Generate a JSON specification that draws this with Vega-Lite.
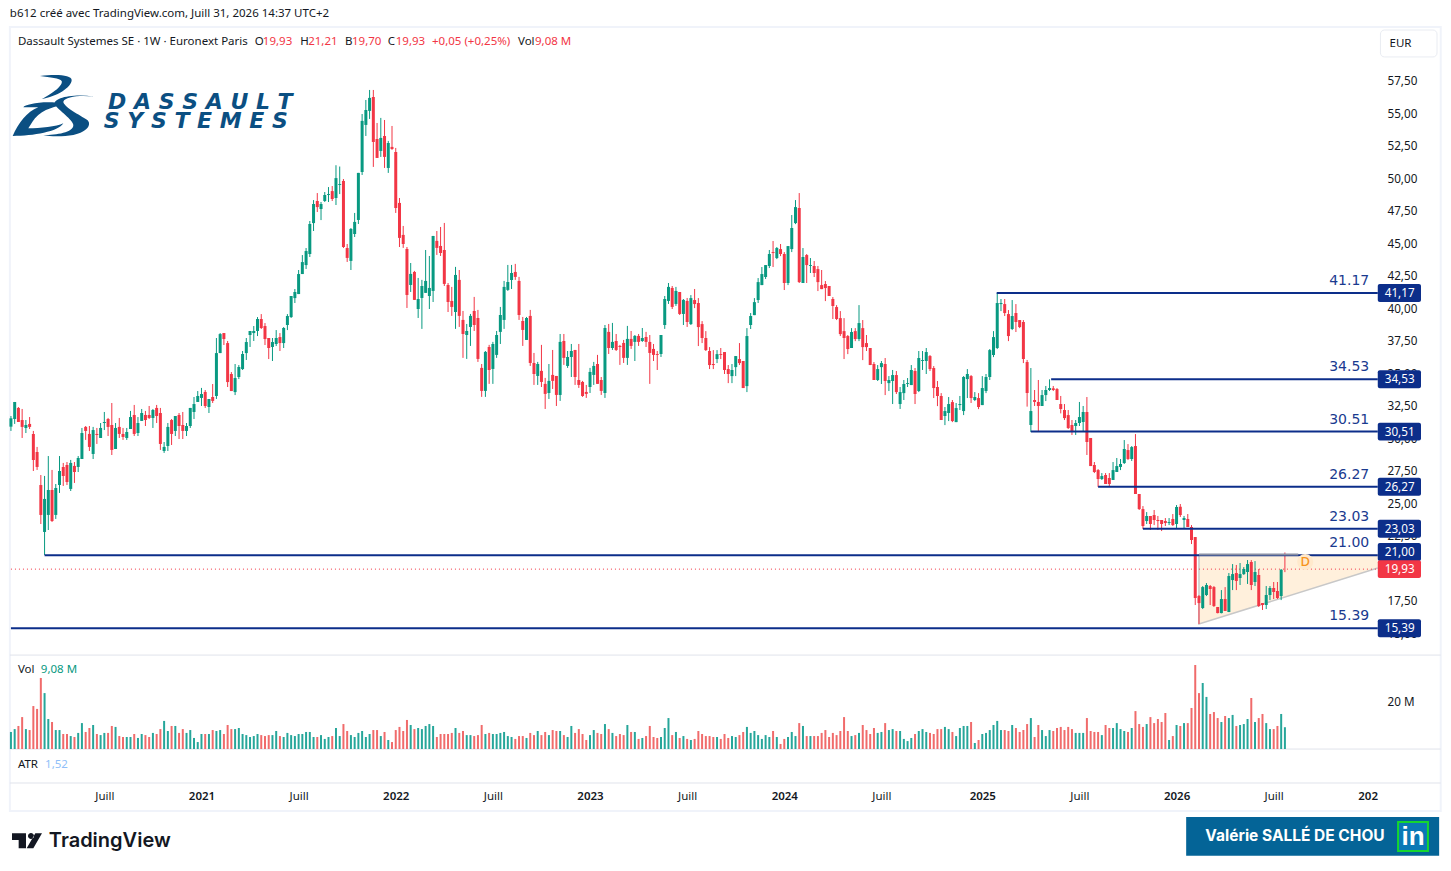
{
"$schema":"https://vega.github.io/schema/vega-lite/v6.json",
"width":1451,"height":871,"autosize":{"type":"fit","contains":"padding"},"padding":0,"background":"#ffffff",
"config":{"view":{"stroke":null}},
"datasets":{
"weeks":[
{"date":"2020-01-13","o":30.89,"h":31.71,"l":30.56,"c":31.53,"v":7.1},
{"date":"2020-01-20","o":31.48,"h":32.79,"l":31.10,"c":32.79,"v":8.3},
{"date":"2020-01-27","o":32.33,"h":32.40,"l":31.25,"c":31.25,"v":9.6},
{"date":"2020-02-03","o":31.40,"h":32.25,"l":30.02,"c":30.87,"v":13.3},
{"date":"2020-02-10","o":30.79,"h":31.40,"l":30.40,"c":31.02,"v":8.3},
{"date":"2020-02-17","o":31.10,"h":31.63,"l":30.71,"c":30.87,"v":7.9},
{"date":"2020-02-24","o":30.33,"h":30.56,"l":27.48,"c":28.33,"v":17.9},
{"date":"2020-03-02","o":28.94,"h":29.33,"l":27.56,"c":27.79,"v":16.7},
{"date":"2020-03-09","o":26.40,"h":27.17,"l":23.40,"c":24.10,"v":29.6},
{"date":"2020-03-16","o":22.79,"h":27.10,"l":21.02,"c":25.33,"v":23.3},
{"date":"2020-03-23","o":24.10,"h":28.63,"l":22.94,"c":26.02,"v":12.5},
{"date":"2020-03-30","o":26.02,"h":27.56,"l":23.56,"c":23.63,"v":11.25},
{"date":"2020-04-06","o":24.10,"h":26.48,"l":23.79,"c":26.17,"v":7.9},
{"date":"2020-04-13","o":26.40,"h":28.63,"l":25.79,"c":27.48,"v":7.9},
{"date":"2020-04-20","o":27.79,"h":28.10,"l":26.33,"c":27.10,"v":6.25},
{"date":"2020-04-27","o":27.94,"h":28.17,"l":26.40,"c":26.63,"v":6.25},
{"date":"2020-05-04","o":26.10,"h":28.33,"l":25.94,"c":28.10,"v":5.4},
{"date":"2020-05-11","o":27.87,"h":28.17,"l":26.56,"c":27.40,"v":5.0},
{"date":"2020-05-18","o":27.79,"h":28.63,"l":27.40,"c":28.48,"v":6.7},
{"date":"2020-05-25","o":28.40,"h":30.79,"l":28.40,"c":30.40,"v":10.8},
{"date":"2020-06-01","o":30.87,"h":30.94,"l":29.87,"c":30.56,"v":7.1},
{"date":"2020-06-08","o":30.33,"h":30.94,"l":29.02,"c":29.33,"v":8.75},
{"date":"2020-06-15","o":28.79,"h":30.87,"l":28.40,"c":30.63,"v":10},
{"date":"2020-06-22","o":30.33,"h":30.79,"l":29.56,"c":30.25,"v":6.25},
{"date":"2020-06-29","o":30.02,"h":31.17,"l":30.02,"c":30.79,"v":5.8},
{"date":"2020-07-06","o":31.17,"h":32.02,"l":30.63,"c":31.25,"v":6.7},
{"date":"2020-07-13","o":31.48,"h":31.56,"l":30.17,"c":30.87,"v":6.7},
{"date":"2020-07-20","o":31.02,"h":32.71,"l":28.71,"c":29.10,"v":9.6},
{"date":"2020-07-27","o":29.17,"h":31.17,"l":29.17,"c":30.79,"v":9.2},
{"date":"2020-08-03","o":30.87,"h":31.56,"l":30.02,"c":30.33,"v":5.4},
{"date":"2020-08-10","o":30.33,"h":30.79,"l":29.87,"c":30.10,"v":5},
{"date":"2020-08-17","o":30.02,"h":30.79,"l":29.87,"c":30.48,"v":5},
{"date":"2020-08-24","o":30.71,"h":32.10,"l":30.71,"c":31.63,"v":5},
{"date":"2020-08-31","o":31.79,"h":32.56,"l":30.17,"c":30.33,"v":6.25},
{"date":"2020-09-07","o":30.40,"h":31.63,"l":30.17,"c":31.17,"v":4.6},
{"date":"2020-09-14","o":31.33,"h":32.25,"l":31.33,"c":31.94,"v":6.25},
{"date":"2020-09-21","o":31.79,"h":32.10,"l":30.94,"c":31.40,"v":5.8},
{"date":"2020-09-28","o":31.79,"h":32.48,"l":31.48,"c":31.56,"v":5},
{"date":"2020-10-05","o":31.56,"h":32.25,"l":30.79,"c":32.17,"v":6.7},
{"date":"2020-10-12","o":32.33,"h":32.56,"l":31.17,"c":31.71,"v":6.25},
{"date":"2020-10-19","o":31.94,"h":32.33,"l":29.10,"c":29.56,"v":8.3},
{"date":"2020-10-26","o":29.02,"h":29.71,"l":28.87,"c":29.33,"v":11.7},
{"date":"2020-11-02","o":29.40,"h":31.17,"l":29.02,"c":30.87,"v":7.5},
{"date":"2020-11-09","o":31.40,"h":31.48,"l":29.48,"c":30.33,"v":9.6},
{"date":"2020-11-16","o":30.56,"h":31.71,"l":30.17,"c":31.71,"v":9.6},
{"date":"2020-11-23","o":31.79,"h":31.94,"l":29.94,"c":30.94,"v":6.7},
{"date":"2020-11-30","o":31.02,"h":32.02,"l":29.94,"c":30.56,"v":8.3},
{"date":"2020-12-07","o":30.56,"h":31.17,"l":30.17,"c":30.94,"v":6.7},
{"date":"2020-12-14","o":30.94,"h":32.33,"l":30.79,"c":32.33,"v":7.9},
{"date":"2020-12-21","o":32.02,"h":33.17,"l":31.48,"c":32.63,"v":4.6},
{"date":"2020-12-28","o":32.79,"h":33.63,"l":32.79,"c":33.25,"v":2.9},
{"date":"2021-01-04","o":33.10,"h":33.87,"l":32.48,"c":33.40,"v":6.25},
{"date":"2021-01-11","o":33.56,"h":33.71,"l":32.33,"c":32.48,"v":6.25},
{"date":"2021-01-18","o":32.40,"h":33.02,"l":31.94,"c":33.02,"v":6.25},
{"date":"2021-01-25","o":33.17,"h":34.17,"l":32.71,"c":32.87,"v":7.9},
{"date":"2021-02-01","o":33.25,"h":37.71,"l":33.02,"c":36.55,"v":7.5},
{"date":"2021-02-08","o":36.55,"h":38.09,"l":36.55,"c":38.01,"v":7.9},
{"date":"2021-02-15","o":38.09,"h":38.09,"l":37.17,"c":37.63,"v":6.25},
{"date":"2021-02-22","o":37.32,"h":37.48,"l":33.94,"c":34.32,"v":10},
{"date":"2021-03-01","o":34.94,"h":35.09,"l":33.63,"c":33.63,"v":8.3},
{"date":"2021-03-08","o":33.55,"h":35.71,"l":33.32,"c":34.63,"v":8.3},
{"date":"2021-03-15","o":34.71,"h":35.63,"l":34.55,"c":35.48,"v":8.75},
{"date":"2021-03-22","o":35.32,"h":36.71,"l":35.25,"c":36.48,"v":6.25},
{"date":"2021-03-29","o":36.55,"h":37.71,"l":36.02,"c":37.40,"v":5.8},
{"date":"2021-04-05","o":37.94,"h":38.25,"l":37.02,"c":38.25,"v":5},
{"date":"2021-04-12","o":38.09,"h":38.63,"l":37.48,"c":38.25,"v":5.4},
{"date":"2021-04-19","o":38.25,"h":39.32,"l":37.86,"c":39.17,"v":6.25},
{"date":"2021-04-26","o":39.17,"h":39.55,"l":38.40,"c":38.48,"v":5.8},
{"date":"2021-05-03","o":38.63,"h":38.86,"l":37.17,"c":37.63,"v":5.4},
{"date":"2021-05-10","o":37.71,"h":37.71,"l":36.09,"c":36.94,"v":5.8},
{"date":"2021-05-17","o":37.02,"h":37.71,"l":35.94,"c":37.40,"v":5.8},
{"date":"2021-05-24","o":37.25,"h":38.32,"l":37.09,"c":37.71,"v":7.5},
{"date":"2021-05-31","o":37.78,"h":38.09,"l":36.71,"c":37.32,"v":5.4},
{"date":"2021-06-07","o":37.32,"h":38.55,"l":36.94,"c":38.48,"v":5},
{"date":"2021-06-14","o":38.71,"h":39.55,"l":38.32,"c":39.40,"v":6.7},
{"date":"2021-06-21","o":39.32,"h":40.94,"l":39.25,"c":40.94,"v":5.8},
{"date":"2021-06-28","o":40.78,"h":41.48,"l":40.40,"c":41.25,"v":5.4},
{"date":"2021-07-05","o":41.09,"h":42.94,"l":41.09,"c":42.63,"v":6.25},
{"date":"2021-07-12","o":42.63,"h":44.09,"l":42.63,"c":43.55,"v":6.25},
{"date":"2021-07-19","o":43.32,"h":44.63,"l":43.02,"c":44.40,"v":7.1},
{"date":"2021-07-26","o":44.17,"h":46.71,"l":43.94,"c":46.48,"v":7.1},
{"date":"2021-08-02","o":46.55,"h":48.32,"l":45.94,"c":48.02,"v":5},
{"date":"2021-08-09","o":48.25,"h":48.86,"l":47.40,"c":47.78,"v":5},
{"date":"2021-08-16","o":47.63,"h":48.17,"l":46.78,"c":48.02,"v":5.8},
{"date":"2021-08-23","o":48.25,"h":48.94,"l":48.17,"c":48.71,"v":4.2},
{"date":"2021-08-30","o":48.71,"h":49.32,"l":48.17,"c":48.78,"v":5},
{"date":"2021-09-06","o":49.01,"h":49.40,"l":48.25,"c":48.40,"v":5.4},
{"date":"2021-09-13","o":48.48,"h":51.00,"l":47.94,"c":50.01,"v":8.75},
{"date":"2021-09-20","o":49.48,"h":50.90,"l":48.78,"c":49.55,"v":5.4},
{"date":"2021-09-27","o":49.79,"h":49.94,"l":44.63,"c":44.71,"v":10.4},
{"date":"2021-10-04","o":44.63,"h":44.94,"l":43.56,"c":43.87,"v":7.5},
{"date":"2021-10-11","o":43.64,"h":46.17,"l":42.94,"c":46.10,"v":5.8},
{"date":"2021-10-18","o":45.71,"h":47.33,"l":45.48,"c":46.64,"v":5},
{"date":"2021-10-25","o":46.79,"h":50.41,"l":46.48,"c":50.41,"v":6.7},
{"date":"2021-11-01","o":50.48,"h":54.94,"l":50.25,"c":54.41,"v":7.5},
{"date":"2021-11-08","o":54.10,"h":56.02,"l":53.25,"c":55.25,"v":5},
{"date":"2021-11-15","o":55.18,"h":56.79,"l":54.56,"c":56.18,"v":6.25},
{"date":"2021-11-22","o":56.25,"h":56.79,"l":50.87,"c":52.79,"v":7.9},
{"date":"2021-11-29","o":53.02,"h":54.25,"l":51.56,"c":51.56,"v":7.9},
{"date":"2021-12-06","o":52.10,"h":54.64,"l":51.64,"c":53.10,"v":5.4},
{"date":"2021-12-13","o":53.25,"h":54.48,"l":50.79,"c":51.64,"v":7.1},
{"date":"2021-12-20","o":50.79,"h":52.87,"l":50.41,"c":52.71,"v":3.75},
{"date":"2021-12-27","o":52.41,"h":54.02,"l":52.18,"c":52.25,"v":2.9},
{"date":"2022-01-03","o":52.02,"h":52.33,"l":47.33,"c":47.71,"v":7.9},
{"date":"2022-01-10","o":48.10,"h":48.48,"l":44.71,"c":45.41,"v":9.2},
{"date":"2022-01-17","o":45.64,"h":46.33,"l":44.64,"c":44.94,"v":7.5},
{"date":"2022-01-24","o":44.56,"h":44.71,"l":40.02,"c":41.02,"v":12.1},
{"date":"2022-01-31","o":41.79,"h":43.48,"l":41.25,"c":42.64,"v":10},
{"date":"2022-02-07","o":42.79,"h":42.87,"l":40.64,"c":40.64,"v":8.3},
{"date":"2022-02-14","o":39.94,"h":42.33,"l":39.25,"c":40.71,"v":8.75},
{"date":"2022-02-21","o":40.79,"h":42.18,"l":38.41,"c":41.71,"v":8.3},
{"date":"2022-02-28","o":41.18,"h":44.48,"l":41.18,"c":42.10,"v":9.6},
{"date":"2022-03-07","o":40.94,"h":44.02,"l":39.94,"c":41.56,"v":10.4},
{"date":"2022-03-14","o":41.33,"h":45.56,"l":40.48,"c":45.56,"v":9.6},
{"date":"2022-03-21","o":45.18,"h":45.94,"l":44.10,"c":44.64,"v":5},
{"date":"2022-03-28","o":44.79,"h":46.25,"l":44.02,"c":44.25,"v":6.25},
{"date":"2022-04-04","o":44.48,"h":46.56,"l":41.71,"c":41.87,"v":6.25},
{"date":"2022-04-11","o":41.79,"h":41.94,"l":39.71,"c":40.48,"v":6.25},
{"date":"2022-04-18","o":40.56,"h":41.64,"l":39.41,"c":40.10,"v":6.7},
{"date":"2022-04-25","o":39.71,"h":43.18,"l":38.41,"c":42.56,"v":8.75},
{"date":"2022-05-02","o":42.18,"h":42.94,"l":38.56,"c":39.41,"v":6.7},
{"date":"2022-05-09","o":39.10,"h":39.79,"l":36.18,"c":38.02,"v":7.5},
{"date":"2022-05-16","o":37.94,"h":38.79,"l":36.10,"c":38.25,"v":5.8},
{"date":"2022-05-23","o":38.56,"h":39.56,"l":37.10,"c":39.41,"v":5.8},
{"date":"2022-05-30","o":39.79,"h":40.87,"l":38.25,"c":38.71,"v":5.4},
{"date":"2022-06-06","o":39.25,"h":39.87,"l":35.87,"c":36.10,"v":5.8},
{"date":"2022-06-13","o":35.41,"h":35.71,"l":33.18,"c":33.64,"v":10},
{"date":"2022-06-20","o":33.64,"h":36.71,"l":33.18,"c":36.64,"v":6.25},
{"date":"2022-06-27","o":37.02,"h":37.18,"l":34.18,"c":35.25,"v":6.7},
{"date":"2022-07-04","o":35.33,"h":37.41,"l":34.18,"c":37.25,"v":6.25},
{"date":"2022-07-11","o":36.41,"h":38.25,"l":36.18,"c":37.94,"v":6.25},
{"date":"2022-07-18","o":38.18,"h":40.10,"l":37.25,"c":39.48,"v":6.7},
{"date":"2022-07-25","o":39.10,"h":42.10,"l":38.41,"c":41.64,"v":7.1},
{"date":"2022-08-01","o":41.41,"h":43.33,"l":41.33,"c":42.02,"v":5.4},
{"date":"2022-08-08","o":42.18,"h":43.33,"l":41.48,"c":42.71,"v":5},
{"date":"2022-08-15","o":42.79,"h":43.41,"l":42.18,"c":42.41,"v":4.2},
{"date":"2022-08-22","o":42.10,"h":42.41,"l":39.10,"c":39.48,"v":5.4},
{"date":"2022-08-29","o":39.02,"h":39.33,"l":37.10,"c":38.33,"v":5.4},
{"date":"2022-09-05","o":37.56,"h":39.33,"l":37.56,"c":39.25,"v":4.6},
{"date":"2022-09-12","o":39.41,"h":39.87,"l":35.56,"c":35.79,"v":6.7},
{"date":"2022-09-19","o":35.79,"h":36.56,"l":34.10,"c":34.94,"v":5.8},
{"date":"2022-09-26","o":34.79,"h":35.87,"l":34.10,"c":35.71,"v":7.5},
{"date":"2022-10-03","o":35.18,"h":37.18,"l":33.94,"c":34.33,"v":5.8},
{"date":"2022-10-10","o":34.18,"h":34.64,"l":32.25,"c":33.41,"v":7.1},
{"date":"2022-10-17","o":33.48,"h":35.71,"l":33.02,"c":34.41,"v":5.8},
{"date":"2022-10-24","o":34.87,"h":36.79,"l":33.79,"c":34.41,"v":7.9},
{"date":"2022-10-31","o":34.79,"h":34.79,"l":32.48,"c":33.33,"v":7.5},
{"date":"2022-11-07","o":33.33,"h":38.02,"l":32.87,"c":37.41,"v":7.5},
{"date":"2022-11-14","o":37.48,"h":38.02,"l":35.64,"c":36.18,"v":5.8},
{"date":"2022-11-21","o":35.56,"h":36.71,"l":35.41,"c":36.25,"v":5},
{"date":"2022-11-28","o":36.25,"h":37.25,"l":34.71,"c":36.71,"v":9.6},
{"date":"2022-12-05","o":36.79,"h":36.79,"l":34.10,"c":34.71,"v":6.7},
{"date":"2022-12-12","o":34.48,"h":37.25,"l":33.87,"c":34.10,"v":8.3},
{"date":"2022-12-19","o":34.33,"h":34.41,"l":33.18,"c":33.25,"v":6.25},
{"date":"2022-12-26","o":33.56,"h":34.10,"l":33.10,"c":33.41,"v":3.75},
{"date":"2023-01-02","o":33.94,"h":35.41,"l":33.48,"c":35.10,"v":5.8},
{"date":"2023-01-09","o":34.87,"h":35.87,"l":34.10,"c":35.56,"v":7.9},
{"date":"2023-01-16","o":35.71,"h":36.41,"l":34.18,"c":34.18,"v":6.7},
{"date":"2023-01-23","o":34.48,"h":34.71,"l":33.33,"c":33.64,"v":6.25},
{"date":"2023-01-30","o":33.48,"h":38.71,"l":33.10,"c":38.48,"v":10.4},
{"date":"2023-02-06","o":38.18,"h":38.79,"l":36.48,"c":36.94,"v":8.3},
{"date":"2023-02-13","o":36.94,"h":38.87,"l":36.79,"c":37.41,"v":6.7},
{"date":"2023-02-20","o":37.48,"h":38.02,"l":36.71,"c":36.79,"v":5.4},
{"date":"2023-02-27","o":37.10,"h":37.18,"l":35.64,"c":37.02,"v":6.25},
{"date":"2023-03-06","o":37.33,"h":37.56,"l":35.79,"c":36.18,"v":5.8},
{"date":"2023-03-13","o":36.18,"h":38.64,"l":35.64,"c":37.64,"v":10},
{"date":"2023-03-20","o":37.64,"h":38.25,"l":36.87,"c":37.10,"v":7.1},
{"date":"2023-03-27","o":37.41,"h":37.94,"l":35.94,"c":37.87,"v":7.1},
{"date":"2023-04-03","o":37.87,"h":38.02,"l":37.10,"c":37.41,"v":4.2},
{"date":"2023-04-10","o":37.48,"h":38.48,"l":37.41,"c":37.71,"v":4.6},
{"date":"2023-04-17","o":37.79,"h":38.18,"l":37.02,"c":37.41,"v":5.4},
{"date":"2023-04-24","o":37.41,"h":37.94,"l":34.18,"c":36.56,"v":9.6},
{"date":"2023-05-01","o":36.87,"h":37.25,"l":35.94,"c":36.41,"v":5},
{"date":"2023-05-08","o":36.48,"h":36.71,"l":35.25,"c":36.41,"v":4.6},
{"date":"2023-05-15","o":36.48,"h":37.94,"l":36.25,"c":37.94,"v":5},
{"date":"2023-05-22","o":38.71,"h":40.94,"l":38.41,"c":40.71,"v":8.75},
{"date":"2023-05-29","o":40.56,"h":41.94,"l":40.33,"c":41.64,"v":12.9},
{"date":"2023-06-05","o":41.56,"h":41.71,"l":39.94,"c":40.10,"v":5.8},
{"date":"2023-06-12","o":40.33,"h":41.64,"l":40.18,"c":41.33,"v":7.1},
{"date":"2023-06-19","o":41.25,"h":41.25,"l":39.48,"c":39.56,"v":4.6},
{"date":"2023-06-26","o":39.56,"h":40.71,"l":38.71,"c":40.64,"v":5.4},
{"date":"2023-07-03","o":40.56,"h":40.79,"l":38.56,"c":38.94,"v":4.2},
{"date":"2023-07-10","o":38.78,"h":41.01,"l":38.71,"c":40.78,"v":3.75},
{"date":"2023-07-17","o":40.63,"h":41.48,"l":40.01,"c":40.32,"v":4.2},
{"date":"2023-07-24","o":40.40,"h":40.78,"l":37.09,"c":38.55,"v":7.5},
{"date":"2023-07-31","o":38.78,"h":39.01,"l":37.32,"c":37.71,"v":6.25},
{"date":"2023-08-07","o":37.71,"h":38.24,"l":36.71,"c":36.78,"v":5.4},
{"date":"2023-08-14","o":36.71,"h":37.01,"l":35.32,"c":35.63,"v":5.4},
{"date":"2023-08-21","o":35.71,"h":36.78,"l":35.32,"c":35.63,"v":5},
{"date":"2023-08-28","o":36.09,"h":36.78,"l":35.78,"c":36.47,"v":5},
{"date":"2023-09-04","o":36.47,"h":36.94,"l":36.09,"c":36.40,"v":4.2},
{"date":"2023-09-11","o":36.63,"h":36.63,"l":34.94,"c":35.25,"v":6.25},
{"date":"2023-09-18","o":35.32,"h":35.63,"l":34.24,"c":34.94,"v":4.6},
{"date":"2023-09-25","o":34.78,"h":35.71,"l":34.24,"c":35.25,"v":5.4},
{"date":"2023-10-02","o":35.47,"h":36.32,"l":34.78,"c":36.32,"v":5},
{"date":"2023-10-09","o":36.09,"h":37.32,"l":35.63,"c":35.78,"v":5.8},
{"date":"2023-10-16","o":35.94,"h":35.94,"l":33.86,"c":33.86,"v":7.1},
{"date":"2023-10-23","o":34.01,"h":38.47,"l":33.55,"c":37.86,"v":9.2},
{"date":"2023-10-30","o":38.71,"h":39.63,"l":38.40,"c":39.40,"v":6.7},
{"date":"2023-11-06","o":39.47,"h":40.78,"l":39.47,"c":40.47,"v":7.5},
{"date":"2023-11-13","o":40.63,"h":42.32,"l":40.40,"c":42.01,"v":5.8},
{"date":"2023-11-20","o":41.78,"h":43.17,"l":41.78,"c":42.63,"v":4.2},
{"date":"2023-11-27","o":42.40,"h":43.32,"l":42.25,"c":43.32,"v":5.8},
{"date":"2023-12-04","o":43.25,"h":44.48,"l":43.09,"c":44.17,"v":5},
{"date":"2023-12-11","o":44.32,"h":45.17,"l":43.17,"c":44.25,"v":7.5},
{"date":"2023-12-18","o":43.86,"h":44.71,"l":43.78,"c":44.63,"v":5},
{"date":"2023-12-25","o":44.55,"h":44.94,"l":44.01,"c":44.17,"v":2.1},
{"date":"2024-01-01","o":44.17,"h":44.32,"l":41.40,"c":41.94,"v":4.2},
{"date":"2024-01-08","o":41.94,"h":44.78,"l":41.78,"c":44.78,"v":5},
{"date":"2024-01-15","o":44.55,"h":47.17,"l":44.32,"c":46.17,"v":7.1},
{"date":"2024-01-22","o":46.55,"h":48.32,"l":46.47,"c":47.78,"v":5.4},
{"date":"2024-01-29","o":47.71,"h":48.86,"l":41.94,"c":42.01,"v":10.8},
{"date":"2024-02-05","o":41.94,"h":44.63,"l":41.94,"c":43.94,"v":9.6},
{"date":"2024-02-12","o":44.09,"h":44.17,"l":41.94,"c":43.32,"v":5.4},
{"date":"2024-02-19","o":43.25,"h":43.86,"l":42.71,"c":43.32,"v":5.4},
{"date":"2024-02-26","o":43.25,"h":43.63,"l":42.40,"c":42.71,"v":5.4},
{"date":"2024-03-04","o":43.01,"h":43.25,"l":41.32,"c":42.01,"v":5.4},
{"date":"2024-03-11","o":41.78,"h":42.94,"l":41.47,"c":41.47,"v":6.7},
{"date":"2024-03-18","o":41.86,"h":42.09,"l":40.55,"c":41.55,"v":7.9},
{"date":"2024-03-25","o":41.71,"h":41.71,"l":40.94,"c":40.94,"v":5},
{"date":"2024-04-01","o":40.71,"h":40.86,"l":39.17,"c":40.17,"v":6.7},
{"date":"2024-04-08","o":40.09,"h":40.24,"l":39.09,"c":39.17,"v":5.8},
{"date":"2024-04-15","o":39.24,"h":39.78,"l":37.86,"c":38.01,"v":7.5},
{"date":"2024-04-22","o":38.24,"h":39.24,"l":36.09,"c":37.71,"v":13.3},
{"date":"2024-04-29","o":37.86,"h":37.94,"l":36.47,"c":36.86,"v":7.5},
{"date":"2024-05-06","o":36.94,"h":38.47,"l":36.94,"c":38.17,"v":5.4},
{"date":"2024-05-13","o":38.24,"h":38.47,"l":37.47,"c":37.63,"v":5.8},
{"date":"2024-05-20","o":37.63,"h":40.24,"l":37.47,"c":38.86,"v":6.7},
{"date":"2024-05-27","o":38.47,"h":39.09,"l":36.01,"c":37.01,"v":10},
{"date":"2024-06-03","o":37.32,"h":37.94,"l":36.71,"c":37.01,"v":7.9},
{"date":"2024-06-10","o":36.94,"h":36.94,"l":35.63,"c":35.63,"v":6.25},
{"date":"2024-06-17","o":35.71,"h":35.86,"l":34.48,"c":34.48,"v":8.75},
{"date":"2024-06-24","o":34.48,"h":35.63,"l":34.40,"c":35.32,"v":6.7},
{"date":"2024-07-01","o":35.47,"h":35.94,"l":34.17,"c":35.78,"v":7.1},
{"date":"2024-07-08","o":35.71,"h":36.17,"l":33.32,"c":34.40,"v":10.8},
{"date":"2024-07-15","o":34.24,"h":34.78,"l":33.63,"c":34.48,"v":7.9},
{"date":"2024-07-22","o":34.40,"h":35.25,"l":32.63,"c":34.86,"v":8.3},
{"date":"2024-07-29","o":34.86,"h":35.17,"l":33.40,"c":33.55,"v":7.5},
{"date":"2024-08-05","o":32.63,"h":33.94,"l":32.25,"c":33.55,"v":7.5},
{"date":"2024-08-12","o":33.47,"h":34.48,"l":32.94,"c":34.17,"v":4.2},
{"date":"2024-08-19","o":34.17,"h":34.63,"l":33.94,"c":34.24,"v":3.3},
{"date":"2024-08-26","o":34.09,"h":35.63,"l":34.09,"c":35.25,"v":4.6},
{"date":"2024-09-02","o":35.17,"h":35.40,"l":32.63,"c":33.40,"v":6.25},
{"date":"2024-09-09","o":33.63,"h":36.71,"l":33.55,"c":36.17,"v":7.5},
{"date":"2024-09-16","o":35.94,"h":36.71,"l":35.25,"c":36.01,"v":8.3},
{"date":"2024-09-23","o":35.94,"h":36.94,"l":34.94,"c":36.63,"v":7.1},
{"date":"2024-09-30","o":36.32,"h":36.40,"l":35.17,"c":35.32,"v":6.7},
{"date":"2024-10-07","o":35.40,"h":35.55,"l":33.09,"c":33.86,"v":6.25},
{"date":"2024-10-14","o":33.94,"h":34.40,"l":32.47,"c":33.25,"v":8.3},
{"date":"2024-10-21","o":33.25,"h":33.47,"l":31.40,"c":31.40,"v":8.3},
{"date":"2024-10-28","o":31.71,"h":32.40,"l":31.01,"c":32.09,"v":9.2},
{"date":"2024-11-04","o":31.94,"h":33.17,"l":31.32,"c":32.63,"v":8.3},
{"date":"2024-11-11","o":32.78,"h":32.94,"l":31.24,"c":31.32,"v":7.1},
{"date":"2024-11-18","o":31.24,"h":32.71,"l":31.24,"c":32.32,"v":5.4},
{"date":"2024-11-25","o":32.55,"h":33.25,"l":32.17,"c":32.63,"v":8.75},
{"date":"2024-12-02","o":32.09,"h":34.78,"l":31.78,"c":34.71,"v":9.6},
{"date":"2024-12-09","o":34.55,"h":35.32,"l":33.09,"c":34.94,"v":9.6},
{"date":"2024-12-16","o":34.78,"h":34.86,"l":32.71,"c":33.09,"v":11.25},
{"date":"2024-12-23","o":32.94,"h":33.55,"l":32.86,"c":33.17,"v":2.5},
{"date":"2024-12-30","o":33.09,"h":33.47,"l":32.24,"c":32.40,"v":3.75},
{"date":"2025-01-06","o":32.55,"h":34.78,"l":32.55,"c":33.86,"v":6.25},
{"date":"2025-01-13","o":33.63,"h":34.94,"l":33.47,"c":34.71,"v":6.7},
{"date":"2025-01-20","o":34.71,"h":36.86,"l":34.48,"c":36.78,"v":7.9},
{"date":"2025-01-27","o":36.40,"h":38.24,"l":36.24,"c":37.78,"v":10},
{"date":"2025-02-03","o":36.94,"h":41.17,"l":36.86,"c":40.40,"v":11.7},
{"date":"2025-02-10","o":40.32,"h":40.71,"l":39.78,"c":40.40,"v":7.9},
{"date":"2025-02-17","o":40.32,"h":40.71,"l":39.40,"c":39.63,"v":7.9},
{"date":"2025-02-24","o":39.55,"h":39.86,"l":37.47,"c":37.86,"v":7.5},
{"date":"2025-03-03","o":38.40,"h":40.63,"l":38.32,"c":39.40,"v":10},
{"date":"2025-03-10","o":39.63,"h":40.32,"l":38.17,"c":38.94,"v":8.75},
{"date":"2025-03-17","o":39.09,"h":39.09,"l":38.47,"c":38.55,"v":7.1},
{"date":"2025-03-24","o":38.94,"h":39.09,"l":35.78,"c":36.09,"v":7.9},
{"date":"2025-03-31","o":35.86,"h":36.02,"l":32.43,"c":33.48,"v":10.4},
{"date":"2025-04-07","o":31.02,"h":35.40,"l":30.48,"c":32.09,"v":12.9},
{"date":"2025-04-14","o":32.94,"h":33.71,"l":32.48,"c":32.79,"v":5},
{"date":"2025-04-21","o":32.79,"h":34.48,"l":30.48,"c":32.48,"v":10},
{"date":"2025-04-28","o":32.48,"h":33.71,"l":32.48,"c":33.32,"v":7.9},
{"date":"2025-05-05","o":33.32,"h":34.02,"l":32.86,"c":33.71,"v":5.4},
{"date":"2025-05-12","o":33.71,"h":34.53,"l":33.63,"c":33.86,"v":7.9},
{"date":"2025-05-19","o":33.84,"h":34.02,"l":33.63,"c":33.71,"v":7.5},
{"date":"2025-05-26","o":33.78,"h":33.86,"l":32.94,"c":32.94,"v":8.75},
{"date":"2025-06-02","o":32.63,"h":33.25,"l":31.91,"c":32.25,"v":9.2},
{"date":"2025-06-09","o":32.17,"h":32.63,"l":31.40,"c":31.55,"v":7.9},
{"date":"2025-06-16","o":31.78,"h":32.17,"l":30.71,"c":30.78,"v":9.2},
{"date":"2025-06-23","o":31.02,"h":31.40,"l":30.25,"c":30.48,"v":8.3},
{"date":"2025-06-30","o":30.94,"h":31.40,"l":30.25,"c":31.17,"v":6.7},
{"date":"2025-07-07","o":31.17,"h":32.79,"l":30.94,"c":31.63,"v":6.7},
{"date":"2025-07-14","o":31.25,"h":32.48,"l":30.48,"c":32.02,"v":6.7},
{"date":"2025-07-21","o":32.02,"h":33.17,"l":28.71,"c":29.71,"v":12.9},
{"date":"2025-07-28","o":30.02,"h":30.02,"l":27.86,"c":27.86,"v":7.5},
{"date":"2025-08-04","o":27.94,"h":28.17,"l":27.32,"c":27.40,"v":7.1},
{"date":"2025-08-11","o":27.55,"h":27.63,"l":26.25,"c":26.86,"v":7.1},
{"date":"2025-08-18","o":26.86,"h":27.32,"l":26.79,"c":27.09,"v":5.8},
{"date":"2025-08-25","o":27.17,"h":27.32,"l":26.48,"c":26.48,"v":10},
{"date":"2025-09-01","o":26.94,"h":27.32,"l":26.25,"c":26.48,"v":8.75},
{"date":"2025-09-08","o":26.79,"h":28.17,"l":26.79,"c":27.55,"v":8.75},
{"date":"2025-09-15","o":27.40,"h":28.48,"l":27.40,"c":27.86,"v":10.8},
{"date":"2025-09-22","o":27.79,"h":28.40,"l":27.55,"c":28.02,"v":8.3},
{"date":"2025-09-29","o":28.09,"h":29.86,"l":28.02,"c":29.17,"v":7.5},
{"date":"2025-10-06","o":29.09,"h":29.55,"l":28.32,"c":28.40,"v":7.1},
{"date":"2025-10-13","o":28.40,"h":29.40,"l":28.25,"c":29.32,"v":8.75},
{"date":"2025-10-20","o":29.40,"h":30.32,"l":25.71,"c":25.71,"v":15.8},
{"date":"2025-10-27","o":25.71,"h":25.71,"l":24.48,"c":24.55,"v":10.4},
{"date":"2025-11-03","o":24.55,"h":24.78,"l":23.02,"c":23.25,"v":9.2},
{"date":"2025-11-10","o":23.63,"h":24.32,"l":23.40,"c":24.02,"v":10.4},
{"date":"2025-11-17","o":24.02,"h":24.02,"l":22.94,"c":23.40,"v":13.3},
{"date":"2025-11-24","o":24.09,"h":24.48,"l":23.32,"c":23.71,"v":10.8},
{"date":"2025-12-01","o":23.71,"h":24.02,"l":22.94,"c":23.63,"v":12.5},
{"date":"2025-12-08","o":23.71,"h":23.71,"l":22.86,"c":23.40,"v":11.25},
{"date":"2025-12-15","o":23.63,"h":23.86,"l":23.25,"c":23.48,"v":15},
{"date":"2025-12-22","o":23.48,"h":23.86,"l":23.32,"c":23.55,"v":3.75},
{"date":"2025-12-29","o":23.79,"h":24.17,"l":23.25,"c":23.32,"v":5.4},
{"date":"2026-01-05","o":23.40,"h":24.86,"l":23.09,"c":24.71,"v":10},
{"date":"2026-01-12","o":24.73,"h":24.94,"l":23.94,"c":24.09,"v":9.6},
{"date":"2026-01-19","o":23.71,"h":24.02,"l":23.09,"c":23.86,"v":10.8},
{"date":"2026-01-26","o":23.79,"h":24.17,"l":23.17,"c":23.17,"v":10.8},
{"date":"2026-02-02","o":23.17,"h":23.32,"l":21.86,"c":22.17,"v":17.1},
{"date":"2026-02-09","o":22.40,"h":22.40,"l":17.17,"c":17.71,"v":35},
{"date":"2026-02-16","o":17.86,"h":17.94,"l":15.71,"c":17.32,"v":23.3},
{"date":"2026-02-23","o":16.94,"h":18.63,"l":16.86,"c":18.55,"v":27.5},
{"date":"2026-03-02","o":17.94,"h":18.86,"l":17.86,"c":18.71,"v":21.7},
{"date":"2026-03-09","o":18.63,"h":18.71,"l":17.17,"c":18.40,"v":14.6},
{"date":"2026-03-16","o":18.55,"h":18.63,"l":17.02,"c":17.09,"v":15.4},
{"date":"2026-03-23","o":17.02,"h":17.02,"l":16.53,"c":16.55,"v":12.9},
{"date":"2026-03-30","o":16.55,"h":18.32,"l":16.53,"c":17.63,"v":11.25},
{"date":"2026-04-06","o":17.63,"h":18.55,"l":16.71,"c":16.71,"v":13.75},
{"date":"2026-04-13","o":16.63,"h":19.63,"l":16.63,"c":19.40,"v":12.9},
{"date":"2026-04-20","o":19.09,"h":20.32,"l":18.32,"c":19.55,"v":14.2},
{"date":"2026-04-27","o":19.63,"h":20.25,"l":18.32,"c":19.02,"v":9.6},
{"date":"2026-05-04","o":19.25,"h":20.40,"l":18.71,"c":19.55,"v":10},
{"date":"2026-05-11","o":19.55,"h":20.09,"l":19.48,"c":19.94,"v":10.4},
{"date":"2026-05-18","o":19.71,"h":20.63,"l":18.79,"c":20.32,"v":12.5},
{"date":"2026-05-25","o":20.48,"h":20.63,"l":18.32,"c":18.71,"v":21.25},
{"date":"2026-06-01","o":18.94,"h":20.55,"l":18.63,"c":19.71,"v":11.25},
{"date":"2026-06-08","o":19.48,"h":19.94,"l":17.02,"c":17.09,"v":12.9},
{"date":"2026-06-15","o":17.32,"h":17.32,"l":16.79,"c":17.17,"v":14.6},
{"date":"2026-06-22","o":17.17,"h":18.63,"l":16.86,"c":17.94,"v":10.8},
{"date":"2026-06-29","o":17.94,"h":18.63,"l":17.55,"c":18.48,"v":8.3},
{"date":"2026-07-06","o":18.48,"h":18.94,"l":17.63,"c":18.17,"v":8.3},
{"date":"2026-07-13","o":18.25,"h":18.94,"l":17.63,"c":17.71,"v":9.6},
{"date":"2026-07-20","o":17.86,"h":19.94,"l":17.55,"c":19.88,"v":14.6},
{"date":"2026-07-27","o":19.93,"h":21.21,"l":19.70,"c":19.93,"v":9.08}
],
"levels":[
{"level":41.17,"start":"2025-02-02","end":"2027-01-17","name":"41.17","badgeAt":41.17,"badgeTop":41.86,"badgeBottom":40.48,"badge":"41,17","nameAt":"2027-01-01","badgeEnd":"2027-04-08","badgeMid":"2027-02-27"},
{"level":34.53,"start":"2025-05-15","end":"2027-01-17","name":"34.53","badgeAt":34.53,"badgeTop":35.22,"badgeBottom":33.84,"badge":"34,53","nameAt":"2027-01-01","badgeEnd":"2027-04-08","badgeMid":"2027-02-27"},
{"level":30.51,"start":"2025-04-07","end":"2027-01-17","name":"30.51","badgeAt":30.51,"badgeTop":31.2,"badgeBottom":29.82,"badge":"30,51","nameAt":"2027-01-01","badgeEnd":"2027-04-08","badgeMid":"2027-02-27"},
{"level":26.27,"start":"2025-08-11","end":"2027-01-17","name":"26.27","badgeAt":26.27,"badgeTop":26.96,"badgeBottom":25.58,"badge":"26,27","nameAt":"2027-01-01","badgeEnd":"2027-04-08","badgeMid":"2027-02-27"},
{"level":23.03,"start":"2025-11-03","end":"2027-01-17","name":"23.03","badgeAt":23.03,"badgeTop":23.72,"badgeBottom":22.34,"badge":"23,03","nameAt":"2027-01-01","badgeEnd":"2027-04-08","badgeMid":"2027-02-27"},
{"level":21.0,"start":"2020-03-16","end":"2027-01-17","name":"21.00","badgeAt":21.25,"badgeTop":21.94,"badgeBottom":20.56,"badge":"21,00","nameAt":"2027-01-01","badgeEnd":"2027-04-08","badgeMid":"2027-02-27"},
{"level":15.39,"start":"2020-01-13","end":"2027-01-17","name":"15.39","badgeAt":15.39,"badgeTop":16.08,"badgeBottom":14.7,"badge":"15,39","nameAt":"2027-01-01","badgeEnd":"2027-04-08","badgeMid":"2027-02-27"}
],
"labels":[
{"date":"2020-01-11","price":62.63,"text":"b612 créé avec TradingView.com, Juill 31, 2026 14:37 UTC+2","tone":"dark"},
{"date":"2020-01-26","price":60.48,"text":"Dassault Systemes SE · 1W · Euronext Paris","tone":"dark"},
{"date":"2021-04-14","price":60.48,"text":"O","tone":"dark"},
{"date":"2021-04-29","price":60.48,"text":"19,93","tone":"down"},
{"date":"2021-07-08","price":60.48,"text":"H","tone":"dark"},
{"date":"2021-07-23","price":60.48,"text":"21,21","tone":"down"},
{"date":"2021-09-30","price":60.48,"text":"B","tone":"dark"},
{"date":"2021-10-13","price":60.48,"text":"19,70","tone":"down"},
{"date":"2021-12-19","price":60.48,"text":"C","tone":"dark"},
{"date":"2022-01-03","price":60.48,"text":"19,93","tone":"down"},
{"date":"2022-03-12","price":60.48,"text":"+0,05 (+0,25%)","tone":"down"},
{"date":"2022-08-20","price":60.48,"text":"Vol","tone":"dark"},
{"date":"2022-09-21","price":60.48,"text":"9,08 M","tone":"down"},
{"date":"2020-01-26","price":12.17,"text":"Vol","tone":"dark"},
{"date":"2020-03-09","price":12.17,"text":"9,08 M","tone":"up"},
{"date":"2020-01-26","price":4.86,"text":"ATR","tone":"dark"},
{"date":"2020-03-17","price":4.86,"text":"1,52","tone":"atr"},
{"date":"2027-02-08","price":60.3,"text":"EUR","tone":"dark"}
],
"triangle":[
{"date":"2026-02-16","top":21.09,"bottom":15.71},
{"date":"2027-01-17","top":21.09,"bottom":20.02}
],
"triangleEdge":[
{"seq":1,"date":"2026-02-16","price":21.09},
{"seq":2,"date":"2026-02-16","price":15.71},
{"seq":3,"date":"2027-01-17","price":20.02}
]
},
"layer":[
{"layer":[
{"data":{"values":[{"x0":"2020-01-11","x1":"2027-05-15","y0":61.63,"y1":1.32}]},
 "mark":{"type":"rect","fill":"transparent","stroke":"#F0F3FA","strokeWidth":2},
 "encoding":{
  "x":{"field":"x0","type":"temporal","title":null,
   "scale":{"domain":["2019-12-23T12:00:00","2027-06-03T05:00:00"],"nice":false,"padding":0},
   "axis":{"orient":"bottom","offset":-86,"domain":false,"ticks":false,"grid":false,"labelPadding":5,
    "values":["2020-07-06","2021-01-04","2021-07-05","2022-01-03","2022-07-04","2023-01-02","2023-07-03","2024-01-01","2024-07-01","2025-01-06","2025-07-07","2026-01-05","2026-07-06","2026-12-29"],
    "labelExpr":"month(datum.value)==6 ? 'Juill' : (month(datum.value)==11 ? '202' : timeFormat(datum.value,'%Y'))",
    "labelFont":"Noto Sans","labelFontSize":11.5,"labelColor":"#131722","labelOverlap":false,"labelBound":false,"labelFlush":false,
    "labelFontWeight":{"condition":{"test":"month(datum.value)!=6","value":600},"value":400}}},
  "x2":{"field":"x1"},
  "y":{"field":"y0","type":"quantitative","title":null,
   "scale":{"domain":[-3.29,63.71],"nice":false,"zero":false},
   "axis":{"orient":"right","offset":-71,"domain":false,"ticks":false,"grid":false,"labelPadding":7,
    "values":[15,17.5,20,22.5,25,27.5,30,32.5,35,37.5,40,42.5,45,47.5,50,52.5,55,57.5],
    "labelExpr":"replace(format(datum.value,'.2f'),'.',',')",
    "labelFont":"Noto Sans","labelFontSize":11.7,"labelColor":"#131722","labelOverlap":false,"labelBound":false,"labelFlush":false}},
  "y2":{"field":"y1"}}},
{"data":{"values":[{"x0":"2020-01-11","x1":"2027-05-15","price":13.32},{"x0":"2020-01-11","x1":"2027-05-15","price":6.09},{"x0":"2020-01-11","x1":"2027-05-15","price":3.48}]},
 "mark":{"type":"rule","color":"#E0E3EB","strokeWidth":1},
 "encoding":{"x":{"field":"x0","type":"temporal"},"x2":{"field":"x1"},"y":{"field":"price","type":"quantitative"}}},
{"data":{"values":[{"x0":"2027-01-22","x1":"2027-05-08","y0":61.4,"y1":59.33}]},
 "mark":{"type":"rect","fill":"#ffffff","stroke":"#E9ECF2","strokeWidth":1,"cornerRadius":4},
 "encoding":{"x":{"field":"x0","type":"temporal"},"x2":{"field":"x1"},"y":{"field":"y0","type":"quantitative"},"y2":{"field":"y1"}}},
{"data":{"name":"triangle"},
 "mark":{"type":"area","fill":"#FFF0DC","opacity":1},
 "encoding":{"x":{"field":"date","type":"temporal"},"y":{"field":"top","type":"quantitative"},"y2":{"field":"bottom"}}},
{"data":{"name":"triangleEdge"},
 "mark":{"type":"line","color":"#C8C8C8","strokeWidth":1.5},
 "encoding":{"x":{"field":"date","type":"temporal"},"y":{"field":"price","type":"quantitative"},"order":{"field":"seq"}}},
{"data":{"values":[{"date":"2027-01-17","price":19.93,"start":"2020-01-13"}]},
 "mark":{"type":"rule","color":"#F23645","strokeWidth":1,"strokeDash":[1,3]},
 "encoding":{"x":{"field":"start","type":"temporal"},"x2":{"field":"date"},"y":{"field":"price","type":"quantitative"}}},
{"data":{"name":"weeks"},
 "mark":{"type":"rule","strokeWidth":1},
 "encoding":{"x":{"field":"date","type":"temporal"},"y":{"field":"h","type":"quantitative"},"y2":{"field":"l"},
  "color":{"condition":{"test":"datum.c>datum.o","value":"#089981"},"value":"#F23645"}}},
{"data":{"name":"weeks"},
 "mark":{"type":"bar","width":3,"orient":"vertical"},
 "encoding":{"x":{"field":"date","type":"temporal"},"y":{"field":"o","type":"quantitative"},"y2":{"field":"c"},
  "color":{"condition":{"test":"datum.c>datum.o","value":"#089981"},"value":"#F23645"}}},
{"data":{"name":"levels"},
 "mark":{"type":"rule","color":"#0C2E8A","strokeWidth":2},
 "encoding":{"x":{"field":"start","type":"temporal"},"x2":{"field":"end"},"y":{"field":"level","type":"quantitative"}}},
{"data":{"values":[{"start":"2026-02-16","end":"2026-08-21","price":21.05}]},
 "mark":{"type":"rule","color":"#8A8FA3","strokeWidth":2},
 "encoding":{"x":{"field":"start","type":"temporal"},"x2":{"field":"end"},"y":{"field":"price","type":"quantitative"}}},
{"data":{"values":[{"date":"2026-09-03","price":20.48,"text":"D"}]},
 "mark":{"type":"point","shape":"circle","size":256,"filled":true,"color":"#FFE9CC","opacity":1},
 "encoding":{"x":{"field":"date","type":"temporal"},"y":{"field":"price","type":"quantitative"}}},
{"data":{"values":[{"date":"2026-09-03","price":20.48,"text":"D"}]},
 "mark":{"type":"text","color":"#F7931A","font":"Noto Sans","fontSize":13,"fontWeight":500,"baseline":"middle","align":"center"},
 "encoding":{"x":{"field":"date","type":"temporal"},"y":{"field":"price","type":"quantitative"},"text":{"field":"text"}}},
{"data":{"name":"levels"},
 "mark":{"type":"text","color":"#1A3A8F","font":"DejaVu Sans","fontSize":14,"align":"right","baseline":"middle","dy":-12},
 "encoding":{"x":{"field":"nameAt","type":"temporal"},"y":{"field":"level","type":"quantitative"},"text":{"field":"name"}}},
{"data":{"name":"levels"},
 "mark":{"type":"rect","color":"#0C2E8A","cornerRadius":2},
 "encoding":{"x":{"field":"end","type":"temporal"},"x2":{"field":"badgeEnd"},"y":{"field":"badgeTop","type":"quantitative"},"y2":{"field":"badgeBottom"}}},
{"data":{"name":"levels"},
 "mark":{"type":"text","color":"#ffffff","font":"Noto Sans","fontSize":11.7,"align":"center","baseline":"middle"},
 "encoding":{"x":{"field":"badgeMid","type":"temporal"},"y":{"field":"badgeAt","type":"quantitative"},"text":{"field":"badge"}}},
{"data":{"values":[{"start":"2027-01-17","end":"2027-04-08","top":20.62,"bottom":19.24,"price":19.93,"text":"19,93","at":"2027-02-27"}]},
 "mark":{"type":"rect","color":"#F23645","cornerRadius":2},
 "encoding":{"x":{"field":"start","type":"temporal"},"x2":{"field":"end"},"y":{"field":"top","type":"quantitative"},"y2":{"field":"bottom"}}},
{"data":{"values":[{"start":"2027-01-17","end":"2027-04-08","price":19.93,"text":"19,93","at":"2027-02-27"}]},
 "mark":{"type":"text","color":"#ffffff","font":"Noto Sans","fontSize":11.7,"align":"center","baseline":"middle"},
 "encoding":{"x":{"field":"at","type":"temporal"},"y":{"field":"price","type":"quantitative"},"text":{"field":"text"}}},
{"data":{"name":"labels"},
 "mark":{"type":"text","font":"Noto Sans","fontSize":11.5,"align":"left","baseline":"middle"},
 "encoding":{"x":{"field":"date","type":"temporal"},"y":{"field":"price","type":"quantitative"},"text":{"field":"text"},
  "color":{"field":"tone","type":"nominal","legend":null,"scale":{"domain":["dark","down","up","atr"],"range":["#131722","#F23645","#089981","#90BFF9"]}}}},
{"data":{"values":[{"date":"2020-07-13","price":55.32,"text":"D A S S A U L T"},{"date":"2020-07-05","price":53.86,"text":"S Y S T E M E S"}]},
 "mark":{"type":"text","font":"DejaVu Sans","fontSize":22,"fontWeight":"bold","fontStyle":"italic","color":"#0B4F82","align":"left","baseline":"alphabetic"},
 "encoding":{"x":{"field":"date","type":"temporal"},"y":{"field":"price","type":"quantitative"},"text":{"field":"text"}}},
{"data":{"values":[{"date":"2019-12-23T12:00:00","price":63.71}]},
 "mark":{"type":"point","filled":true,"opacity":1,"color":"#0B4F82","size":0.4444,
  "shape":"M120,228 C170,222 215,225 215,240 C215,262 170,290 125,297 C160,280 190,255 185,243 C180,235 150,232 120,228 Z M38,408 C55,370 80,335 115,322 L70,322 C75,312 140,300 195,312 C170,320 130,325 105,355 C95,368 90,378 85,385 C120,385 170,380 190,370 C175,395 100,408 38,408 Z M283,290 C240,285 195,290 190,305 C190,320 240,345 262,360 C275,372 265,395 220,405 C190,410 150,410 130,405 C170,405 220,398 220,375 C220,360 175,330 165,315 C155,295 215,280 283,290 Z"},
 "encoding":{"x":{"field":"date","type":"temporal"},"y":{"field":"price","type":"quantitative"}}},
{"data":{"values":[{"date":"2019-12-23T12:00:00","price":13.71}]},
 "mark":{"type":"point","filled":true,"opacity":1,"color":"#131722","size":0.4444,
  "shape":"M36,550 L78,550 L78,595 L56,595 L56,570 L36,570 Z M84,558 A9,9 0 1,0 102,558 A9,9 0 1,0 84,558 Z M106,550 L126,550 L100,595 L80,595 Z"},
 "encoding":{"x":{"field":"date","type":"temporal"},"y":{"field":"price","type":"quantitative"}}},
{"data":{"values":[{"date":"2020-03-24","price":-1.45,"text":"TradingView"}]},
 "mark":{"type":"text","font":"Inter","fontSize":20,"fontWeight":600,"color":"#131722","align":"left","baseline":"alphabetic"},
 "encoding":{"x":{"field":"date","type":"temporal"},"y":{"field":"price","type":"quantitative"},"text":{"field":"text"}}},
{"data":{"values":[{"x0":"2026-01-23","x1":"2027-05-12","y0":0.86,"y1":-2.12}]},
 "mark":{"type":"rect","fill":"#046497"},
 "encoding":{"x":{"field":"x0","type":"temporal"},"x2":{"field":"x1"},"y":{"field":"y0","type":"quantitative"},"y2":{"field":"y1"}}},
{"data":{"values":[{"x0":"2027-02-24","x1":"2027-04-21","y0":0.48,"y1":-1.75}]},
 "mark":{"type":"rect","fill":"#0A78B5","stroke":"#16D52E","strokeWidth":2},
 "encoding":{"x":{"field":"x0","type":"temporal"},"x2":{"field":"x1"},"y":{"field":"y0","type":"quantitative"},"y2":{"field":"y1"}}},
{"data":{"values":[{"date":"2026-08-15","price":-0.6,"text":"Valérie SALLÉ DE CHOU"}]},
 "mark":{"type":"text","font":"Inter","fontSize":15.5,"fontWeight":700,"color":"#ffffff","align":"center","baseline":"middle"},
 "encoding":{"x":{"field":"date","type":"temporal"},"y":{"field":"price","type":"quantitative"},"text":{"field":"text"}}},
{"data":{"values":[{"date":"2027-03-24","price":-0.68,"text":"in"}]},
 "mark":{"type":"text","font":"Liberation Sans","fontSize":26,"fontWeight":700,"color":"#ffffff","align":"center","baseline":"middle"},
 "encoding":{"x":{"field":"date","type":"temporal"},"y":{"field":"price","type":"quantitative"},"text":{"field":"text"}}}
]},
{"data":{"name":"weeks"},
 "mark":{"type":"bar","width":2,"orient":"vertical"},
 "encoding":{
  "x":{"field":"date","type":"temporal"},
  "y":{"field":"v","type":"quantitative","title":null,
   "scale":{"domain":[-50.83,312.08],"nice":false,"zero":false},
   "axis":{"orient":"right","offset":-71,"domain":false,"ticks":false,"grid":false,"labelPadding":7,"values":[20],
    "labelExpr":"datum.value + ' M'","labelFont":"Noto Sans","labelFontSize":11.7,"labelColor":"#131722","labelBound":false,"labelFlush":false}},
  "color":{"condition":{"test":"datum.c>=datum.o","value":"#26A69A"},"value":"#F06B6B"}}}
],
"resolve":{"scale":{"y":"independent"},"axis":{"y":"independent"}}
}
